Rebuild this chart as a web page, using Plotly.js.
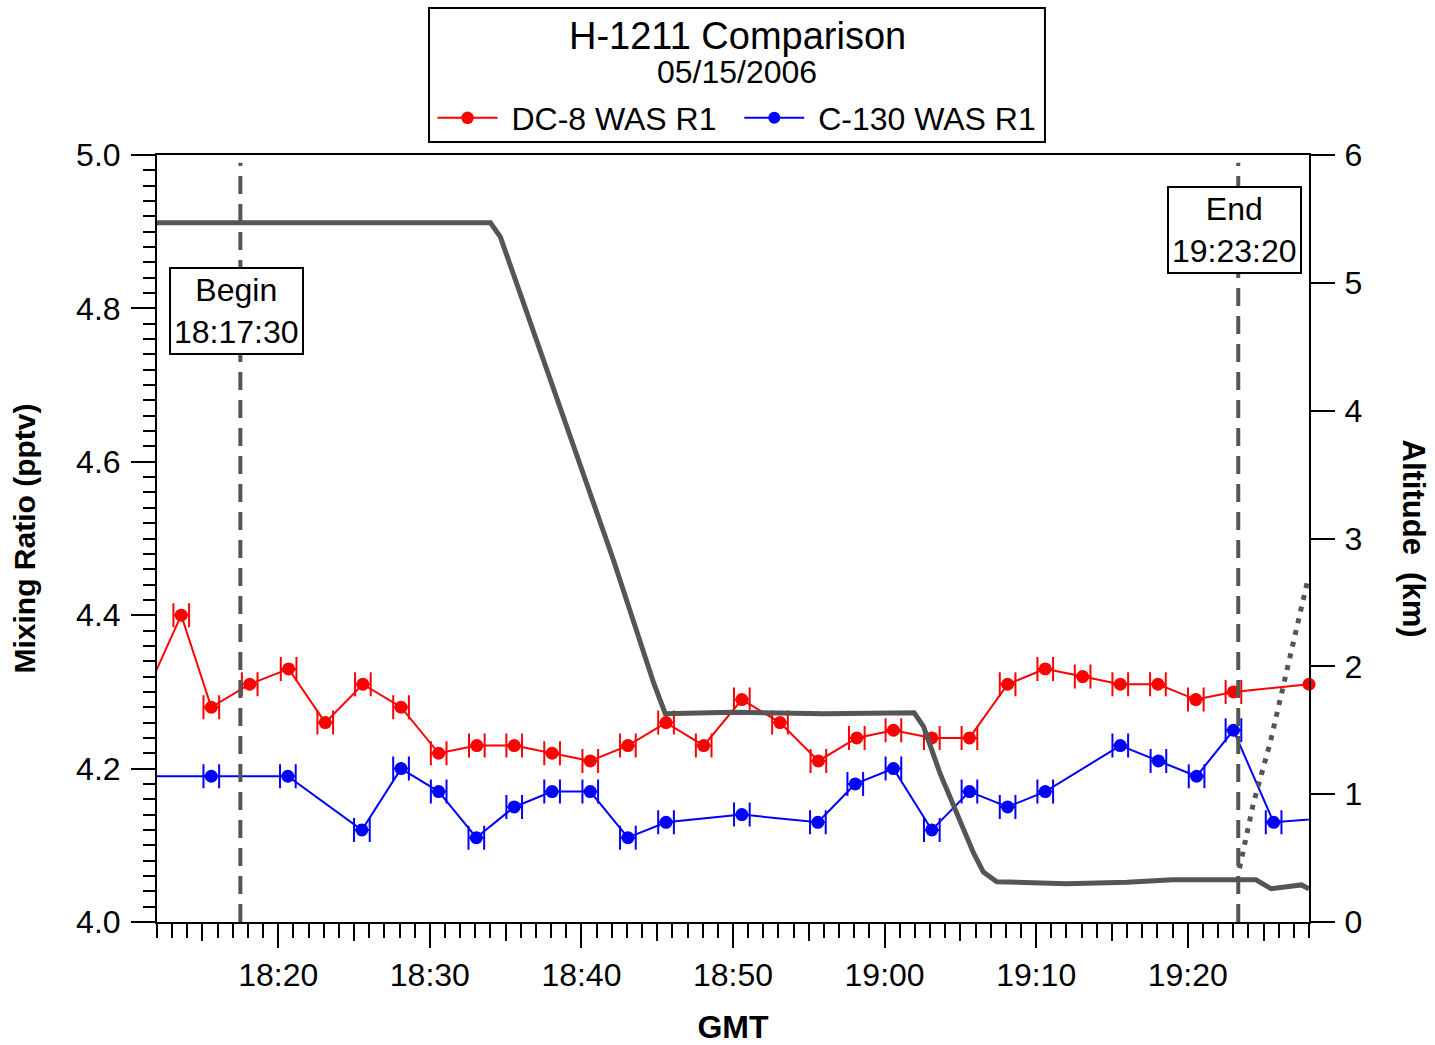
<!DOCTYPE html>
<html>
<head>
<meta charset="utf-8">
<script src="https://cdn.plot.ly/plotly-3.0.1.min.js"></script>
<style>html,body{margin:0;padding:0;background:#fff;}#chart{width:1435px;height:1045px;}</style>
</head>
<body>
<div id="chart"></div>
<script>
// ---------------- data ----------------
const chartTitle = 'H-1211 Comparison';
const chartDate = '05/15/2006';
const xRange = ['18:12:00', '19:28:00'];
const xTickLabels = ['18:20','18:30','18:40','18:50','19:00','19:10','19:20'];
const beginTime = '18:17:30';
const endTime = '19:23:20';

const dc8Name = 'DC-8 WAS R1';
const dc8Time = ['18:11:05','18:13:36','18:15:35','18:18:07','18:20:41','18:23:06','18:25:35','18:28:06','18:30:35','18:33:06',
                 '18:35:34','18:38:04','18:40:35','18:43:04','18:45:35','18:48:04','18:50:35','18:53:06','18:55:38','18:58:10',
                 '19:00:35','19:03:07','19:05:36','19:08:07','19:10:36','19:13:04','19:15:33','19:18:02','19:20:32','19:23:01','19:28:00'];
const dc8Value = [4.29,4.40,4.28,4.31,4.33,4.26,4.31,4.28,4.22,4.23,
                  4.23,4.22,4.21,4.23,4.26,4.23,4.29,4.26,4.21,4.24,
                  4.25,4.24,4.24,4.31,4.33,4.32,4.31,4.31,4.29,4.30,4.31];

const c130Name = 'C-130 WAS R1';
const c130Time = ['18:11:05','18:15:35','18:20:38','18:25:31','18:28:06','18:30:35','18:33:04','18:35:34','18:38:04','18:40:35',
                  '18:43:04','18:45:35','18:50:35','18:55:36','18:58:04','19:00:35','19:03:07','19:05:36','19:08:07','19:10:36',
                  '19:15:33','19:18:04','19:20:35','19:23:01','19:25:40','19:30:00'];
const c130Value = [4.19,4.19,4.19,4.12,4.20,4.17,4.11,4.15,4.17,4.17,
                   4.11,4.13,4.14,4.13,4.18,4.20,4.12,4.17,4.15,4.17,
                   4.23,4.21,4.19,4.25,4.13,4.137];

// sample collection half-width (seconds)
const sampleHalfWidthSec = 31;

// DC-8 altitude (km)
const altTime = ['18:12:00','18:20:00','18:28:00','18:34:00','18:34:39','18:36:11','18:39:16','18:42:07','18:44:46','18:45:32',
                 '18:50:00','18:56:00','19:01:57','19:02:34','19:03:40','19:04:46','19:05:52','19:06:31','19:07:24','19:12:00',
                 '19:16:00','19:19:00','19:24:30','19:25:30','19:27:30','19:28:00'];
const altKm = [5.47,5.47,5.47,5.47,5.36,4.84,3.80,2.83,1.87,1.63,
               1.64,1.63,1.637,1.53,1.16,0.85,0.54,0.39,0.315,0.30,
               0.31,0.33,0.33,0.26,0.29,0.26];

// C-130 climb (km)
const alt2Time = ['19:23:25','19:24:20','19:25:26','19:26:32','19:27:58'];
const alt2Km = [0.42,0.93,1.40,1.97,2.70];

// ---------------- build ----------------
const FONT = 'Arial, "Liberation Sans", sans-serif';
const NB = '\u00a0';
// minutes since 18:00 (linear axis so that horizontal error bars can be drawn)
const mins = t => { const p = t.split(':').map(Number); return (p[0] - 18) * 60 + p[1] + (p[2] || 0) / 60; };
const r0 = mins(xRange[0]), r1 = mins(xRange[1]);
const inside = t => { const v = mins(t); return v >= r0 - 1e-9 && v <= r1 + 1e-9; };
const strictInside = t => { const v = mins(t); return v > r0 && v < r1; };

function seriesTrace(name, times, vals, color) {
  return {
    type: 'scatter', mode: 'lines+markers', name: name,
    x: times.map(mins), y: vals,
    line: {color: color, width: 2},
    marker: {color: color, opacity: 1, size: times.map(t => inside(t) ? 13 : 0), line: {width: 0}},
    error_x: {type: 'data', symmetric: true,
              array: times.map(t => strictInside(t) ? sampleHalfWidthSec / 60 : NaN),
              color: color, thickness: 2, width: 12},
    cliponaxis: false
  };
}

const traces = [
  seriesTrace(NB + dc8Name + NB + NB, dc8Time, dc8Value, '#ff0000'),
  seriesTrace(NB + c130Name, c130Time, c130Value, '#0000ff'),
  {type: 'scatter', mode: 'lines', x: altTime.map(mins), y: altKm, yaxis: 'y2',
   line: {color: '#555555', width: 5}, showlegend: false, hoverinfo: 'skip'},
  {type: 'scatter', mode: 'lines', x: alt2Time.map(mins), y: alt2Km, yaxis: 'y2',
   line: {color: '#555555', width: 5, dash: '5px,7px'}, showlegend: false, hoverinfo: 'skip'},
  {type: 'scatter', mode: 'lines', x: [], y: [], xaxis: 'x2', yaxis: 'y', showlegend: false}
];

const tickStyle = {ticks: 'outside', tickcolor: 'black', tickwidth: 2};
const xr = [r0, r1];

const layout = {
  width: 1435, height: 1045,
  margin: {l: 157, r: 126, t: 155, b: 123},
  paper_bgcolor: 'white', plot_bgcolor: 'white',
  font: {family: FONT, color: 'black', size: 32},
  showlegend: true,
  legend: {orientation: 'h', x: 0.5035, xanchor: 'center', y: 1.0482, yanchor: 'middle',
           font: {size: 32, family: FONT}, bgcolor: 'rgba(0,0,0,0)', itemwidth: 60, traceorder: 'normal'},
  xaxis: Object.assign({}, tickStyle, {
    type: 'linear', range: xr, tickmode: 'array',
    tickvals: xTickLabels.map(mins), ticktext: xTickLabels,
    ticklen: 24, showline: true, linewidth: 2, linecolor: 'black', mirror: true,
    showgrid: false, zeroline: false, ticklabelstandoff: 0,
    tickfont: {size: 32},
    minor: {dtick: 1, tick0: 0, ticks: 'outside', ticklen: 14, tickwidth: 2, tickcolor: 'black', showgrid: false},
    title: {text: '<b>GMT</b>', font: {size: 32}, standoff: 23}
  }),
  xaxis2: Object.assign({}, tickStyle, {
    type: 'linear', range: xr, overlaying: 'x', anchor: 'y', dtick: 5, tick0: 0,
    ticklen: 18, showticklabels: false, showline: false, showgrid: false, zeroline: false
  }),
  yaxis: Object.assign({}, tickStyle, {
    range: [4.0, 5.0], dtick: 0.2, tickformat: '.1f', ticklen: 24,
    showline: true, linewidth: 2, linecolor: 'black', mirror: true,
    showgrid: false, zeroline: false, ticklabelstandoff: 4, tickfont: {size: 32},
    minor: {dtick: 0.02, ticks: 'outside', ticklen: 12, tickwidth: 2, tickcolor: 'black', showgrid: false},
    title: {text: '<b>Mixing Ratio (pptv)</b>', font: {size: 30}, standoff: 32}
  }),
  yaxis2: Object.assign({}, tickStyle, {
    range: [0, 6], dtick: 1, overlaying: 'y', side: 'right', anchor: 'x',
    ticklen: 24, showline: true, linewidth: 2, linecolor: 'black',
    showgrid: false, zeroline: false, ticklabelstandoff: 3, tickfont: {size: 32}
  }),
  shapes: [
    {type: 'rect', xref: 'paper', yref: 'paper', x0: 0.2361, x1: 0.7708, y0: 1.0169, y1: 1.1917,
     line: {color: 'black', width: 2}, fillcolor: 'white', layer: 'below'},
    {type: 'line', xref: 'x', yref: 'paper', x0: mins(beginTime), x1: mins(beginTime), y0: 0, y1: 0.99,
     line: {color: '#555555', width: 4, dash: '18px,10px'}},
    {type: 'line', xref: 'x', yref: 'paper', x0: mins(endTime), x1: mins(endTime), y0: 0, y1: 0.99,
     line: {color: '#555555', width: 4, dash: '18px,10px'}}
  ],
  annotations: [
    {text: chartTitle, xref: 'paper', yref: 'paper', x: 0.5035, y: 1.1551, showarrow: false,
     xanchor: 'center', yanchor: 'middle', font: {size: 38}},
    {text: chartDate, xref: 'paper', yref: 'paper', x: 0.5035, y: 1.1082, showarrow: false,
     xanchor: 'center', yanchor: 'middle', font: {size: 32}},
    {text: 'Begin<br>' + beginTime, xref: 'x', yref: 'y', x: mins(beginTime), y: 4.797, xshift: -4,
     showarrow: false, xanchor: 'center', yanchor: 'middle', font: {size: 32},
     bgcolor: 'white', bordercolor: 'black', borderwidth: 2, borderpad: 3},
    {text: 'End<br>' + endTime, xref: 'x', yref: 'y', x: mins(endTime), y: 4.9016, xshift: -4,
     showarrow: false, xanchor: 'center', yanchor: 'middle', font: {size: 32},
     bgcolor: 'white', bordercolor: 'black', borderwidth: 2, borderpad: 3},
    {text: '<b>Altitude  (km)</b>', xref: 'paper', yref: 'paper', x: 1.0, xshift: 104, y: 0.5, showarrow: false,
     xanchor: 'center', yanchor: 'middle', textangle: 90, font: {size: 31}}
  ]
};

Plotly.newPlot('chart', traces, layout, {displayModeBar: false, staticPlot: true});
</script>
</body>
</html>
